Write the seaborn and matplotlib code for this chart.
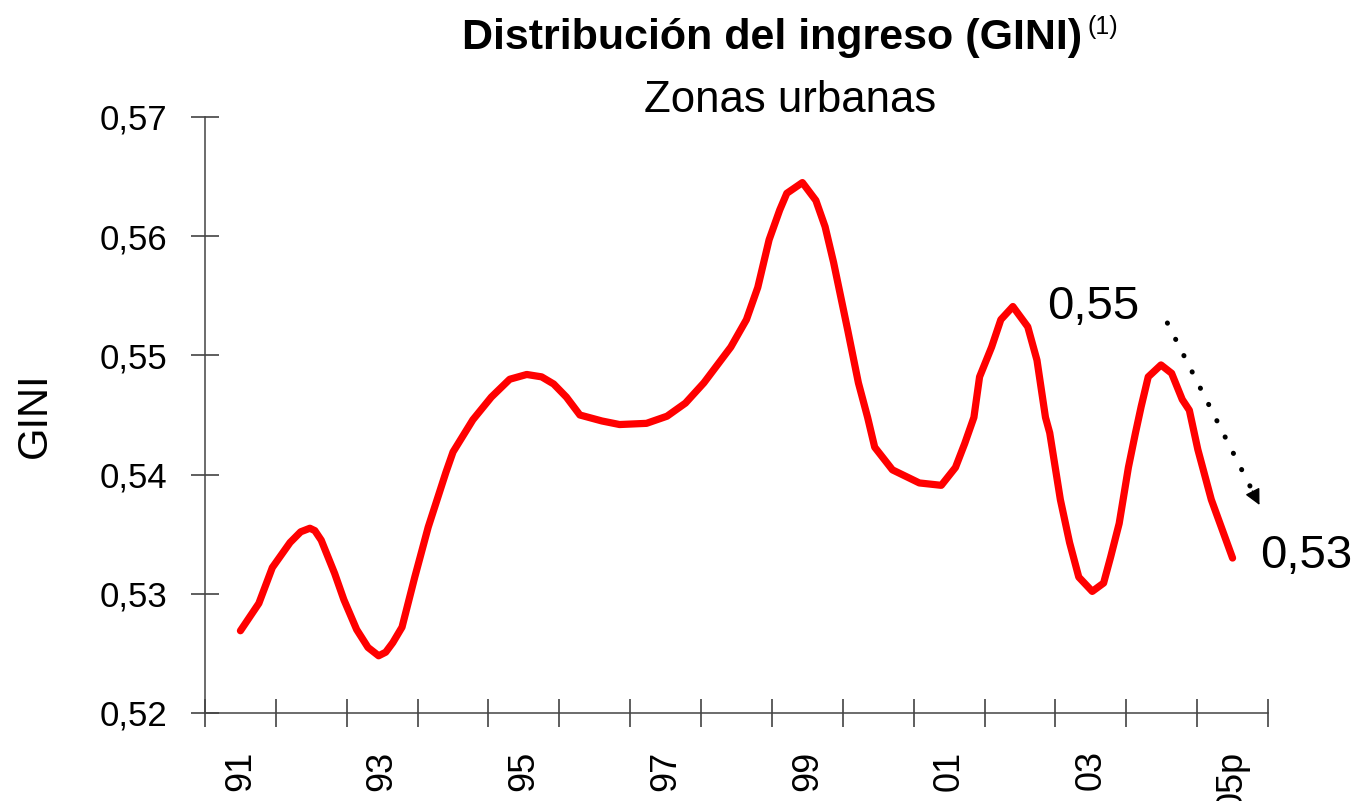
import numpy as np
import pandas as pd
import matplotlib
matplotlib.use('Agg')
import matplotlib.pyplot as plt
import seaborn as sns

# Gini urban series
# (position in years since 1991, one category per year, 05p = preliminary)
periodo = [0.00, 0.26, 0.45, 0.70, 0.85, 0.98, 1.05, 1.14, 1.33, 1.46,
           1.64, 1.80, 1.95, 2.05, 2.15, 2.28, 2.46, 2.65, 2.90, 3.00,
           3.28, 3.54, 3.80, 4.04, 4.25, 4.42, 4.60, 4.79, 5.10, 5.35,
           5.73, 6.02, 6.28, 6.54, 6.92, 7.14, 7.30, 7.46, 7.61, 7.71,
           7.93, 8.12, 8.25, 8.37, 8.57, 8.72, 8.85, 8.95, 9.20, 9.58,
           9.89, 10.09, 10.22, 10.35, 10.43, 10.60, 10.73, 10.90, 11.11, 11.24,
           11.36, 11.42, 11.57, 11.70, 11.83, 12.02, 12.18, 12.28, 12.40, 12.53,
           12.63, 12.71, 12.81, 12.99, 13.14, 13.29, 13.39, 13.51, 13.70, 14.00]
gini = [0.5269, 0.5292, 0.5322, 0.5343, 0.5352, 0.5355, 0.5353, 0.5345, 0.5317, 0.5295,
        0.5270, 0.5255, 0.5248, 0.5251, 0.5259, 0.5272, 0.5314, 0.5356, 0.5402, 0.5419,
        0.5446, 0.5465, 0.5480, 0.5484, 0.5482, 0.5476, 0.5465, 0.5450, 0.5445, 0.5442,
        0.5443, 0.5449, 0.5460, 0.5477, 0.5507, 0.5530, 0.5557, 0.5597, 0.5622, 0.5636,
        0.5645, 0.5630, 0.5608, 0.5578, 0.5521, 0.5477, 0.5448, 0.5423, 0.5404, 0.5393,
        0.5391, 0.5406, 0.5426, 0.5448, 0.5482, 0.5507, 0.5530, 0.5541, 0.5524, 0.5496,
        0.5448, 0.5435, 0.5379, 0.5343, 0.5314, 0.5302, 0.5309, 0.5331, 0.5359, 0.5406,
        0.5435, 0.5457, 0.5482, 0.5492, 0.5485, 0.5463, 0.5454, 0.5421, 0.5379, 0.5330]

anios = ['91', '92', '93', '94', '95', '96', '97', '98', '99', '00', '01', '02', '03', '04', '05p']
y_ticks = [0.52, 0.53, 0.54, 0.55, 0.56, 0.57]

df = pd.DataFrame({'periodo': periodo, 'gini': gini})

sns.set_style('white')
plt.rcParams['font.family'] = ['Liberation Sans', 'DejaVu Sans']
plt.rcParams['text.color'] = 'black'
plt.rcParams['xtick.color'] = 'black'
plt.rcParams['ytick.color'] = 'black'

fig = plt.figure(figsize=(13.55, 8.01), dpi=100)
ax = fig.add_axes([205 / 1355, 1 - 713 / 801, (1268 - 205) / 1355, (713 - 117) / 801])

sns.lineplot(data=df, x='periodo', y='gini', color='#ff0000', linewidth=5.2, ax=ax,
             solid_capstyle='round', solid_joinstyle='round')

ax.set_xlim(-0.5, len(anios) - 0.5)
ax.set_ylim(0.52, 0.57)

# category boundaries as tick marks, labels on every other year
ax.set_xticks(np.arange(-0.5, len(anios), 1.0))
ax.set_xticklabels([])
ax.set_xticks(np.arange(0, len(anios), 2), minor=True)
ax.set_xticklabels(anios[::2], minor=True, rotation=90, fontsize=26)
ax.tick_params(axis='x', which='major', bottom=True, direction='inout', length=20,
               width=1.1, color='#333333')
ax.tick_params(axis='x', which='minor', bottom=True, length=0, pad=27)

ax.set_yticks(y_ticks)
ax.set_yticklabels([f'{v:.2f}'.replace('.', ',') for v in y_ticks], fontsize=25)
ax.tick_params(axis='y', left=True, direction='inout', length=20, width=1.1,
               color='#333333', pad=17)

for s in ['top', 'right']:
    ax.spines[s].set_visible(False)
for s in ['left', 'bottom']:
    ax.spines[s].set_color('#444444')
    ax.spines[s].set_linewidth(1.1)

ax.set_xlabel('')
ax.set_ylabel('')
fig.text(0.026, 0.482, 'GINI', rotation=90, ha='center', va='center', fontsize=30)

# title and subtitle
fig.text(0.57, 0.953, 'Distribución del ingreso (GINI)', ha='center', va='center',
         fontsize=31, fontweight='bold')
fig.text(0.8025, 0.966, '(1)', ha='left', va='center', fontsize=18)
fig.text(0.583, 0.874, 'Zonas urbanas', ha='center', va='center', fontsize=31.5)

# trend annotation
ax.text(12.04, 0.5541, '0,55', ha='center', va='center', fontsize=34)
ax.text(15.04, 0.5332, '0,53', ha='center', va='center', fontsize=34, clip_on=False)
ax.plot([13.08, 14.25], [0.55272, 0.53899], color='black', lw=3.6,
        linestyle=(0, (0.05, 3.6)), dash_capstyle='round', clip_on=False)
ax.annotate('', xy=(14.38, 0.53745), xytext=(14.28, 0.53862),
            arrowprops=dict(arrowstyle='-|>', color='black', lw=1,
                            mutation_scale=24, shrinkA=0, shrinkB=0),
            annotation_clip=False)

fig.savefig('out.png', dpi=100)
